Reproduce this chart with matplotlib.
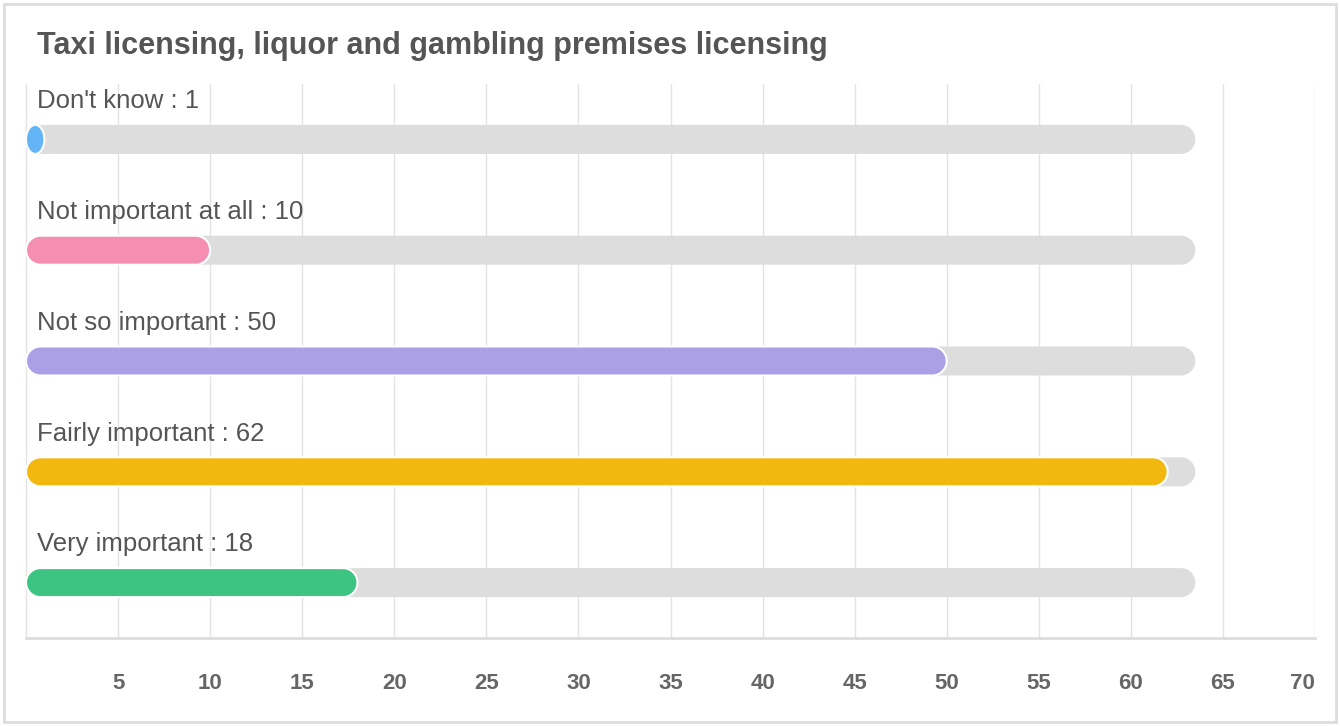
import numpy as np
import matplotlib
matplotlib.use('Agg')
import matplotlib.pyplot as plt
from matplotlib.patches import Polygon, Rectangle

# Data
categories = ["Don't know", "Not important at all", "Not so important",
              "Fairly important", "Very important"]
values = [1, 10, 50, 62, 18]
track_max = 63.5
bar_colors = ['#64b5f6', '#f48fb1', '#ab9fe5', '#f3b80f', '#3ec482']
x_ticks = [5, 10, 15, 20, 25, 30, 35, 40, 45, 50, 55, 60, 65, 70]

plt.rcParams['font.family'] = ['Liberation Sans', 'DejaVu Sans']

fig = plt.figure(figsize=(13.4, 7.26), dpi=100)
ax = fig.add_axes([26 / 1340, 88 / 726, 1289 / 1340, 554 / 726])
ax.set_xlim(0, 70)
ax.set_ylim(4.5, -0.5)

# pixels per data unit, used to keep the bar ends round
px_x = 1289 / 70
px_y = 554 / 5
bar_h = 29 / px_y


def rounded_bar(ax, yc, x0, x1, h, color, edge=None, zorder=2):
    ry = h / 2
    rx = min(ry * px_y / px_x, (x1 - x0) / 2)
    t = np.linspace(-np.pi / 2, np.pi / 2, 40)
    right = np.column_stack([x1 - rx + rx * np.cos(t), yc + ry * np.sin(t)])
    t2 = np.linspace(np.pi / 2, 3 * np.pi / 2, 40)
    left = np.column_stack([x0 + rx + rx * np.cos(t2), yc + ry * np.sin(t2)])
    pts = np.vstack([right, left])
    poly = Polygon(pts, closed=True, facecolor=color,
                   edgecolor=edge if edge else 'none',
                   linewidth=1.5 if edge else 0, zorder=zorder)
    ax.add_patch(poly)


for i, (cat, val, col) in enumerate(zip(categories, values, bar_colors)):
    rounded_bar(ax, i, 0, track_max, bar_h, '#dddddd', zorder=2)
    rounded_bar(ax, i, 0, val, bar_h, col, edge='white', zorder=3)
    ax.text(0.6, i - 0.345, f'{cat} : {val}', fontsize=18.5, color='#555555',
            va='center', ha='left', zorder=4)

ax.set_xticks(x_ticks)
ax.set_xticklabels([str(t) for t in x_ticks], fontsize=16, fontweight='bold',
                   color='#666666')
ax.get_xticklabels()[-1].set_ha('right')
ax.tick_params(axis='x', length=0, pad=25)
ax.set_yticks([])
ax.grid(True, axis='x', color='#e3e3e3', linewidth=1, zorder=0)
ax.set_axisbelow(True)

for side in ['top', 'right']:
    ax.spines[side].set_visible(False)
ax.spines['left'].set_color('#e3e3e3')
ax.spines['left'].set_linewidth(1)
ax.spines['bottom'].set_color('#dddddd')
ax.spines['bottom'].set_linewidth(2)

fig.text(37 / 1340, 1 - 46 / 726, 'Taxi licensing, liquor and gambling premises licensing',
         fontsize=22, fontweight='bold', color='#555555', va='center', ha='left')

# outer frame
fig.patches.append(Rectangle((4 / 1340, 4 / 726), 1332 / 1340, 718 / 726,
                             transform=fig.transFigure, fill=False,
                             edgecolor='#dddddd', linewidth=2))

fig.savefig('out.png', dpi=100)
